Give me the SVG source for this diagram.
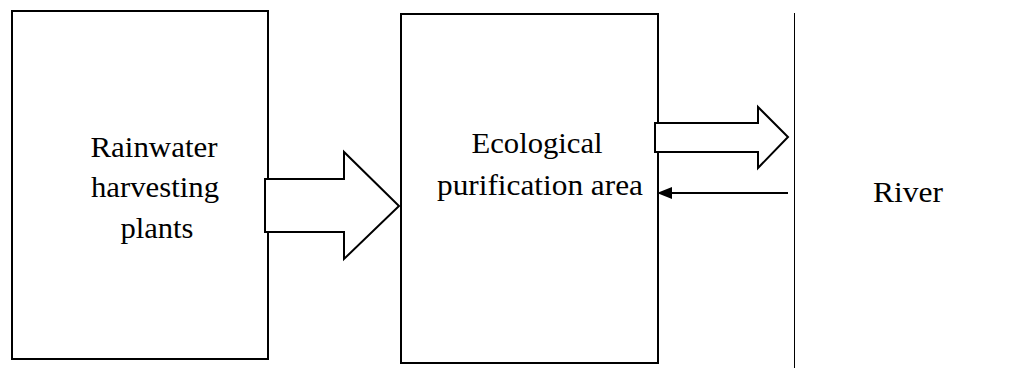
<svg xmlns="http://www.w3.org/2000/svg" width="1010" height="368" viewBox="0 0 1010 368">
<style>
.box{fill:#fff;stroke:#000;stroke-width:2}
.big{fill:#fff;stroke:#000;stroke-width:2;stroke-linejoin:miter}
.t{fill:#000;text-anchor:middle}
</style>
<rect width="1010" height="368" fill="#fff"/>
<g id="rainwater">
<rect class="box" x="12" y="11" width="256" height="348"/>
<text class="t" font-family="'Liberation Serif', 'DejaVu Serif', serif" font-size="28.5" x="154" y="157" textLength="127" lengthAdjust="spacingAndGlyphs">Rainwater</text>
<text class="t" font-family="'Liberation Serif', 'DejaVu Serif', serif" font-size="28.5" x="155" y="197" textLength="128" lengthAdjust="spacingAndGlyphs">harvesting</text>
<text class="t" font-family="'Liberation Serif', 'DejaVu Serif', serif" font-size="28.5" x="157" y="238" textLength="73" lengthAdjust="spacingAndGlyphs">plants</text>
</g>
<g id="ecological">
<rect class="box" x="401" y="14" width="257" height="349"/>
<text class="t" font-family="'Liberation Serif', 'DejaVu Serif', serif" font-size="28.5" x="537" y="153" textLength="131" lengthAdjust="spacingAndGlyphs">Ecological</text>
<text class="t" font-family="'Liberation Serif', 'DejaVu Serif', serif" font-size="28.5" x="540" y="195" textLength="206" lengthAdjust="spacingAndGlyphs">purification area</text>
</g>
<g id="river">
<line x1="794.5" y1="13" x2="794.5" y2="368" stroke="#000" stroke-width="1"/>
<text class="t" font-family="'Liberation Serif', 'DejaVu Serif', serif" font-size="28.5" x="908" y="202" textLength="70" lengthAdjust="spacingAndGlyphs">River</text>
</g>
<g id="connectors">
<polygon class="big" points="265,179 344,179 344,152 399,206 344,259 344,232 265,232"/>
<polygon class="big" points="655,123 758,123 758,107 788,137 758,168 758,152 655,152"/>
<line x1="788" y1="193" x2="670" y2="193" stroke="#000" stroke-width="2"/>
<polygon points="657,193 672,187 672,199" fill="#000"/>
</g>
</svg>
